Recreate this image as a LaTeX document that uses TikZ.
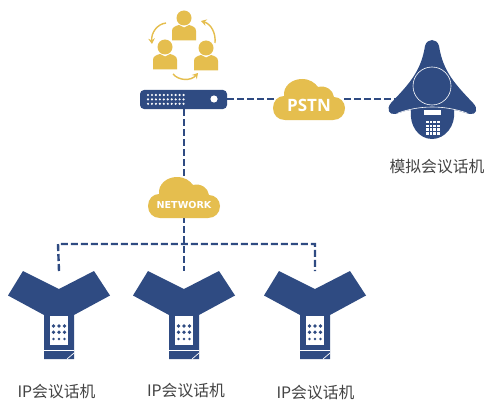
\documentclass[tikz,border=0pt]{standalone}
\usepackage{fontspec}
\newfontfamily\cjkf{Noto Sans CJK SC}
\newfontfamily\pstnf{Open Sans}[BoldFont={* Bold}]
\newfontfamily\netf{DejaVu Sans}
\usetikzlibrary{arrows.meta}
\definecolor{navy}{HTML}{2F4B82}
\definecolor{gold}{HTML}{E5BE4E}
\definecolor{lab}{HTML}{444444}
\tikzset{
  link/.style={navy,line width=2.4pt,dash pattern=on 7pt off 3pt},
  lbl/.style={text=lab,font=\cjkf\fontsize{15.8}{16}\selectfont,inner sep=0pt},
  cycle arrow/.style={gold,line width=1.4pt,-{Stealth[length=5.5pt,width=6.5pt]}},
  hair/.style={white,line width=.7pt}
}
\newcommand{\ipphone}[2]{%
  \begin{scope}[shift={(#1,0)}]
    \fill[navy] (-51,295.5)--(-36,271)--(0,289)--(35,271)--(51,295.5)--(15,315)--(15,359)--(-15,359)--(-15,315)--cycle;
    \fill[white] (-9,316) rectangle (9,345);
    \foreach \r in {0,1,2} \foreach \c in {-5.5,0,5.5}
      \fill[navy] (\c,{326+6.2*\r+(\r==2?.6:0)}) circle ({\r==2?1.3:1.9});
    \draw[hair] (-15,350)--(15,350);
    \draw[hair] (8,359)--(15,353);
    \coordinate (#2) at (0,271);
  \end{scope}}
\newcommand{\cloudshape}[2]{%
  \begin{scope}[shift={(#1,#2)}]
    \fill[gold] (285,120)
      .. controls (278,120) and (273,115) .. (273,108)
      .. controls (273,101) and (278,96) .. (284,96)
      .. controls (283,86) and (292,79) .. (302,79)
      .. controls (310,79) and (315,83) .. (318,87)
      .. controls (326,85) and (333,90) .. (334,97)
      .. controls (340,97) and (345,102) .. (345,108)
      .. controls (345,115) and (340,120) .. (333,120) -- cycle;
  \end{scope}}
\newcommand{\person}[2]{%
  \begin{scope}[shift={(#1,#2)}]
    \fill[gold] (0,0) circle (7.5);
    \fill[gold] (-12,22.5) -- (-12,13) .. controls (-12,9.5) and (-9,8) .. (-5,7)
      -- (0,9.5) -- (5,7) .. controls (9,8) and (12,9.5) .. (12,13) -- (12,22.5) -- cycle;
  \end{scope}}
\begin{document}
\begin{tikzpicture}[x=1pt,y=-1pt]
\useasboundingbox (0,0) rectangle (486,401);
\clip (0,0) rectangle (486,401);
\fill[white] (0,0) rectangle (486,401);

% named anchors of the connectors
\coordinate (srvS) at (184,109);
\coordinate (srvE) at (227,99);
\coordinate (pstnW) at (274,99);
\coordinate (pstnE) at (344,99);
\coordinate (anaW) at (400,99);
\coordinate (netN) at (184,178);
\coordinate (netS) at (184,216);
\coordinate (hub) at (184,244);
\coordinate (hubL) at (58,244);
\coordinate (hubR) at (315,244);

% phones
\ipphone{59}{ipA}
\ipphone{184}{ipB}
\ipphone{315}{ipC}

% connectors
\draw[link] (srvE)--(pstnW);
\draw[link] (pstnE)--(anaW);
\draw[link] (srvS)--(netN);
\draw[link] (netS)--(hub)--(ipB);
\draw[link] (ipA)--(hubL)--(hub)--(hubR)--(ipC);

% clouds
\cloudshape{0}{0}
\cloudshape{-125}{98}
\node[text=white,font=\pstnf\bfseries\fontsize{17}{17}\selectfont,inner sep=0pt] (pstn) at (309,105) {PSTN};
\node[text=white,font=\netf\bfseries\fontsize{9.6}{10}\selectfont,inner sep=0pt] (net) at (184,205) {NETWORK};

% people
\person{184}{18}
\person{165}{47}
\person{206}{48}
\draw[cycle arrow] (166,23) .. controls (157,24) and (151,33) .. (152,44);
\draw[cycle arrow] (215,43) .. controls (216,33) and (211,24) .. (201,21);
\draw[cycle arrow] (173,74) .. controls (179,81) and (191,81) .. (198,73);

% server
\fill[navy,rounded corners=4pt] (140,90) rectangle (227,109);
\foreach \r in {0,1,2} \foreach \c in {0,...,9}
  \fill[white] ({148+\c*3.95},{95+\r*4.4}) circle (1.2);
\fill[white] (214,99) circle (3.6);

% analog phone
\fill[navy] (425,46) .. controls (427,38) and (437,38) .. (439,46)
  .. controls (443,72) and (456,85) .. (473,103)
  .. controls (479,109) and (476,115) .. (470,114)
  .. controls (464,113) and (458,110) .. (454,110)
  .. controls (456,126) and (445,139) .. (432,139)
  .. controls (419,139) and (409,126) .. (411,110)
  .. controls (406,110) and (400,113) .. (395,114)
  .. controls (389,115) and (386,109) .. (391,103)
  .. controls (408,85) and (421,72) .. (425,46) -- cycle;
\draw[white,line width=.6pt] (432,86) circle (19);
\draw[white,line width=.6pt] (398,113) .. controls (420,105) and (444,105) .. (467,113);
\fill[white] (423.5,109.5) rectangle (440.5,115);
\foreach \r in {0,1,2,3} \foreach \c in {0,1,2,3}
  \fill[white] ({426+\c*3.7-.15},{121+\r*3.7}) rectangle ++(2.7,2.4);

% labels
\node[lbl] (ana) at (437,167) {模拟会议话机};
\node[lbl] (lblA) at (56.5,391.5) {IP会议话机};
\node[lbl] (lblB) at (186,391) {IP会议话机};
\node[lbl] (lblC) at (315.5,392.8) {IP会议话机};
\end{tikzpicture}
\end{document}
